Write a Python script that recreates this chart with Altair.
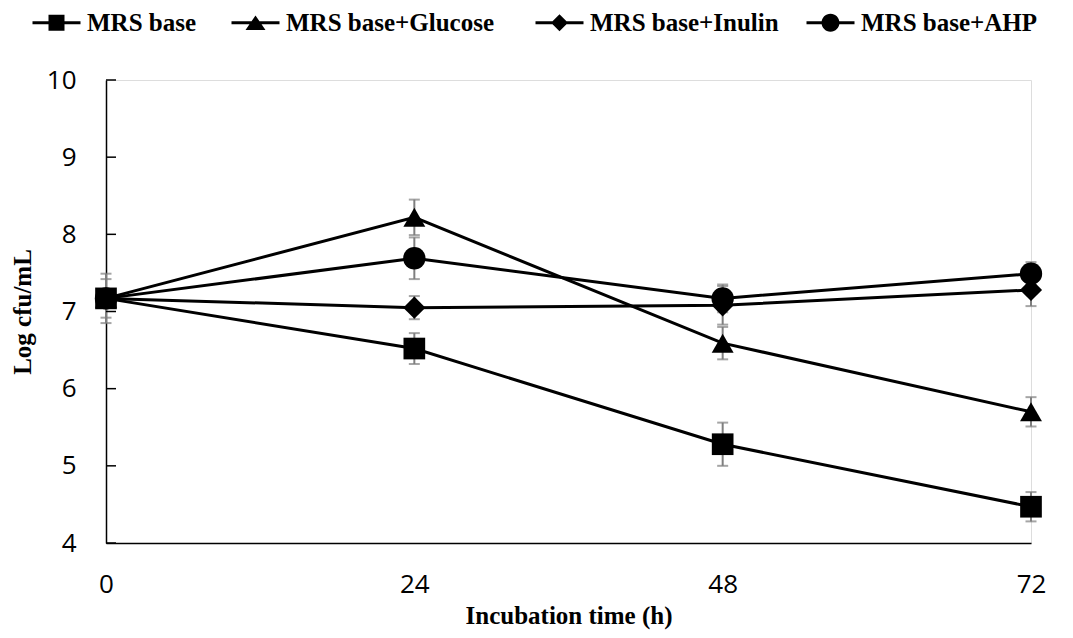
import altair as alt
import pandas as pd

times = [0, 24, 48, 72]
series_names = ["MRS base", "MRS base+Glucose", "MRS base+Inulin", "MRS base+AHP"]
base = [7.17, 6.52, 5.28, 4.47]
base_err = [0.32, 0.20, 0.28, 0.19]
glucose = [7.17, 8.22, 6.59, 5.70]
glucose_err = [0.25, 0.23, 0.21, 0.19]
inulin = [7.17, 7.05, 7.08, 7.28]
inulin_err = [0.10, 0.15, 0.25, 0.21]
ahp = [7.17, 7.69, 7.17, 7.49]
ahp_err = [0.10, 0.27, 0.18, 0.15]
y_ticks = [4, 5, 6, 7, 8, 9, 10]

rows = []
for name, vals, errs in zip(series_names, [base, glucose, inulin, ahp],
                            [base_err, glucose_err, inulin_err, ahp_err]):
    for t, v, e in zip(times, vals, errs):
        rows.append({"series": name, "time": t, "value": v, "err": e})
df = pd.DataFrame(rows)
tick_df = pd.DataFrame({"tick": y_ticks})

point_shapes = ["square", "triangle-up", "diamond", "circle"]
point_sizes = [470, 500, 420, 470]
line_seg = "M-3,-0.19H3V0.19H-3Z"
legend_shapes = [
    line_seg + "M-1,-1H1V1H-1Z",
    line_seg + "M0,-0.9L1.25,0.9H-1.25Z",
    line_seg + "M0,-1.06L1.06,0L0,1.06L-1.06,0Z",
    line_seg + "M-1.12,0A1.12,1.12 0 1,1 1.12,0A1.12,1.12 0 1,1 -1.12,0Z",
]

xscale = alt.Scale(domain=[0, 72], nice=False, zero=False)
yscale = alt.Scale(domain=[4, 10], nice=False, zero=False)

x_enc = alt.X("time:Q", scale=xscale, axis=alt.Axis(
    values=times, title="Incubation time (h)", ticks=False, grid=False,
    labelFlush=False, labelPadding=28, domainColor="black", domainWidth=1.5,
    labelFont="Open Sans", labelFontSize=26, labelColor="black", format="d",
    titleFont="Liberation Serif", titleFontWeight="bold", titleFontSize=25,
    titleColor="black", titlePadding=6))
y_enc = alt.Y("value:Q", scale=yscale, axis=alt.Axis(
    values=y_ticks, title="Log cfu/mL", ticks=False, grid=False, format="d",
    labelPadding=30, domainColor="black", domainWidth=1.5,
    labelFont="Open Sans", labelFontSize=26, labelColor="black",
    titleFont="Liberation Serif", titleFontWeight="bold", titleFontSize=25,
    titleColor="black", titlePadding=11))

base_chart = alt.Chart(df)

err_rule = base_chart.mark_rule(color="#7f7f7f", strokeWidth=2).encode(
    x=alt.X("time:Q", scale=xscale),
    y=alt.Y("lo:Q", scale=yscale),
    y2="hi:Q",
).transform_calculate(lo="datum.value - datum.err", hi="datum.value + datum.err")

cap_lo = base_chart.mark_tick(color="#7f7f7f", size=11, thickness=2, orient="horizontal").encode(
    x=alt.X("time:Q", scale=xscale),
    y=alt.Y("lo:Q", scale=yscale),
).transform_calculate(lo="datum.value - datum.err")

cap_hi = base_chart.mark_tick(color="#7f7f7f", size=11, thickness=2, orient="horizontal").encode(
    x=alt.X("time:Q", scale=xscale),
    y=alt.Y("hi:Q", scale=yscale),
).transform_calculate(hi="datum.value + datum.err")

lines = base_chart.mark_line(color="black", strokeWidth=3).encode(
    x=x_enc, y=y_enc, detail="series:N", order="time:Q")

points = base_chart.mark_point(filled=True, color="black", opacity=1).encode(
    x=alt.X("time:Q", scale=xscale),
    y=alt.Y("value:Q", scale=yscale),
    shape=alt.Shape("series:N", scale=alt.Scale(domain=series_names, range=point_shapes), legend=None),
    size=alt.Size("series:N", scale=alt.Scale(domain=series_names, range=point_sizes), legend=None),
)

yticks = alt.Chart(tick_df).mark_rule(color="black", strokeWidth=1.5).encode(
    y=alt.Y("tick:Q", scale=yscale),
    x=alt.value(0), x2=alt.value(10),
)


def legend_part(names, shapes, lx, pad):
    return base_chart.mark_point(filled=True, color="black", opacity=1).encode(
        x=alt.X("time:Q", scale=xscale),
        y=alt.Y("value:Q", scale=yscale),
        shape=alt.Shape("series:N", scale=alt.Scale(domain=names, range=shapes),
                        legend=alt.Legend(
                            title=None, orient="none", legendX=lx, legendY=-70,
                            direction="horizontal", columns=len(names), columnPadding=pad,
                            symbolSize=256, symbolFillColor="black",
                            symbolStrokeWidth=0, symbolOpacity=1, labelOffset=18,
                            labelFont="Liberation Serif", labelFontWeight="bold",
                            labelFontSize=25, labelColor="black", labelLimit=400, padding=0)),
    ).transform_filter("false")


legend_a = legend_part(series_names[:2], legend_shapes[:2], -62, 34)
legend_b = legend_part(series_names[2:], legend_shapes[2:], 441, 27)

chart = alt.layer(err_rule, cap_lo, cap_hi, lines, points, yticks, legend_a, legend_b).resolve_scale(
    shape="independent"
).properties(
    width=925, height=463,
    autosize=alt.AutoSizeParams(type="none"),
    padding={"left": 98, "top": 72, "right": 34, "bottom": 87},
).configure_view(stroke=None).configure(background="white")

chart.save("out.html", embed_options={"renderer": "svg", "actions": False})
